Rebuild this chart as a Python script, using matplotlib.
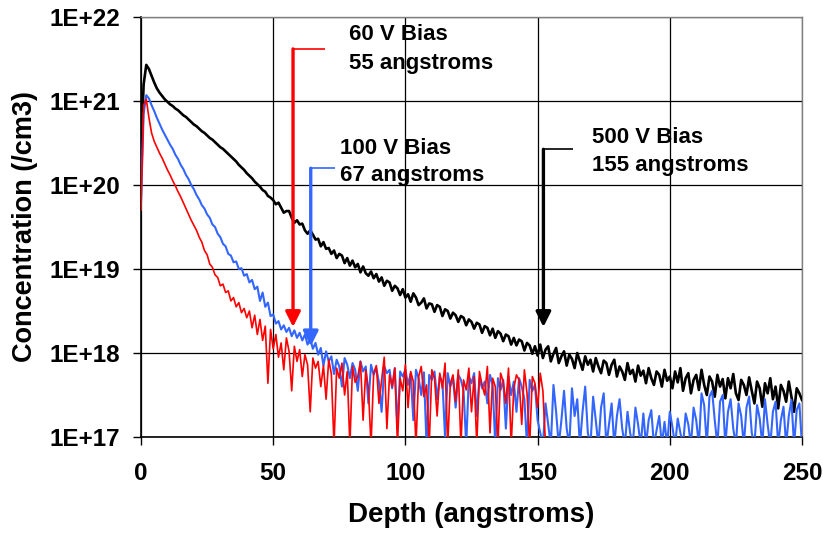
import numpy as np
import matplotlib
matplotlib.use("Agg")
import matplotlib.pyplot as plt

plt.rcParams['font.family'] = ['Liberation Sans', 'DejaVu Sans']
plt.rcParams['font.weight'] = 'bold'

# ---- data (log10 of concentration) ----
depth_500 = np.arange(0, 251)
log_conc_500 = [
    20.40, 21.20, 21.43, 21.38, 21.30, 21.22, 21.15, 21.10, 21.06, 21.02, 20.99,
    20.96, 20.94, 20.91, 20.89, 20.86, 20.83, 20.81, 20.78, 20.75, 20.72,
    20.70, 20.67, 20.64, 20.62, 20.59, 20.56, 20.54, 20.51, 20.48, 20.45,
    20.43, 20.40, 20.37, 20.34, 20.31, 20.28, 20.24, 20.21, 20.18, 20.14,
    20.11, 20.08, 20.04, 20.01, 19.98, 19.94, 19.92, 19.87, 19.85, 19.82,
    19.77, 19.79, 19.73, 19.67, 19.69, 19.69, 19.61, 19.55, 19.58, 19.53,
    19.54, 19.46, 19.42, 19.46, 19.41, 19.35, 19.36, 19.27, 19.32, 19.24,
    19.25, 19.18, 19.22, 19.13, 19.18, 19.16, 19.07, 19.13, 19.04, 19.10,
    19.02, 19.06, 18.96, 19.03, 18.95, 18.92, 18.97, 18.89, 18.94, 18.85,
    18.90, 18.80, 18.86, 18.84, 18.74, 18.80, 18.77, 18.69, 18.76, 18.66,
    18.70, 18.61, 18.71, 18.66, 18.57, 18.60, 18.65, 18.53, 18.59, 18.58,
    18.49, 18.57, 18.55, 18.44, 18.52, 18.50, 18.41, 18.48, 18.45, 18.37,
    18.44, 18.42, 18.33, 18.40, 18.37, 18.29, 18.36, 18.34, 18.24, 18.32,
    18.30, 18.21, 18.29, 18.18, 18.26, 18.23, 18.14, 18.22, 18.20, 18.10,
    18.18, 18.09, 18.16, 18.14, 18.03, 18.12, 18.09, 17.99, 18.08, 17.97,
    18.10, 17.94, 18.04, 18.08, 17.90, 17.99, 18.06, 17.88, 17.96, 18.02,
    17.85, 17.98, 17.93, 17.82, 18.00, 17.90, 17.80, 17.96, 17.86, 17.92,
    17.78, 17.94, 17.84, 17.76, 17.91, 17.88, 17.74, 17.86, 17.92, 17.72,
    17.84, 17.78, 17.68, 17.88, 17.75, 17.80, 17.66, 17.85, 17.73, 17.79,
    17.64, 17.82, 17.70, 17.62, 17.78, 17.74, 17.60, 17.80, 17.67, 17.72,
    17.58, 17.78, 17.65, 17.82, 17.55, 17.70, 17.76, 17.52, 17.68, 17.74,
    17.56, 17.80, 17.62, 17.50, 17.72, 17.66, 17.48, 17.74, 17.60, 17.69,
    17.46, 17.70, 17.58, 17.75, 17.52, 17.44, 17.68, 17.62, 17.50, 17.71,
    17.55, 17.40, 17.66, 17.58, 17.36, 17.64, 17.52, 17.70, 17.45, 17.60,
    17.34, 17.62, 17.55, 17.42, 17.66, 17.48, 17.30, 17.58, 17.52, 17.44,
]

depth_100 = np.arange(0, 251)
log_conc_100 = [
    19.80, 20.85, 21.07, 21.03, 20.95, 20.88, 20.80, 20.73, 20.66, 20.60, 20.54,
    20.48, 20.43, 20.36, 20.31, 20.24, 20.19, 20.12, 20.07, 20.00, 19.95,
    19.88, 19.83, 19.76, 19.72, 19.65, 19.61, 19.53, 19.50, 19.42, 19.38,
    19.30, 19.27, 19.18, 19.16, 19.08, 19.09, 19.00, 19.01, 18.92, 18.94,
    18.84, 18.87, 18.76, 18.79, 18.62, 18.72, 18.55, 18.60, 18.44, 18.46,
    18.35, 18.38, 18.28, 18.33, 18.25, 18.30, 18.20, 18.27, 18.18, 18.24,
    18.15, 18.22, 18.10, 18.17, 18.05, 18.12, 17.98, 18.06, 17.85, 18.02,
    17.90, 17.96, 17.75, 17.92, 17.84, 17.60, 17.94, 17.86, 17.70, 17.88,
    17.80, 17.55, 17.90, 17.78, 17.84, 17.40, 17.86, 17.74, 17.82, 17.65,
    17.30, 17.84, 17.76, 17.80, 17.58, 17.82, 17.10, 17.78, 17.72, 17.80,
    17.62, 17.76, 17.20, 17.80, 17.70, 17.50, 17.77, 16.90, 17.74, 17.68,
    17.78, 17.45, 17.72, 17.66, 17.00, 17.76, 17.60, 17.70, 17.35, 17.74,
    17.68, 17.55, 16.90, 17.72, 17.64, 17.76, 17.25, 17.70, 17.58, 17.66,
    17.40, 17.74, 17.62, 16.90, 17.70, 17.56, 17.68, 17.10, 17.72, 17.50,
    17.66, 17.30, 17.70, 17.60, 17.45, 16.90, 17.68, 17.55, 17.62, 17.20,
    17.05, 16.90, 17.40, 17.15, 16.90, 17.62, 17.30, 16.90, 17.20, 17.55,
    17.10, 16.90, 17.58, 17.25, 17.45, 16.90, 17.30, 17.60, 17.05, 16.90,
    17.48, 17.20, 16.90, 17.35, 17.52, 16.90, 17.15, 17.40, 16.90, 17.25,
    17.45, 17.10, 16.90, 17.30, 17.05, 16.90, 17.35, 17.15, 16.90, 17.28,
    16.90, 17.20, 17.32, 16.90, 17.08, 17.25, 16.90, 17.18, 16.90, 17.30,
    17.12, 16.90, 17.22, 17.05, 16.90, 17.28, 17.15, 16.90, 17.35, 17.20,
    16.90, 17.52, 17.38, 16.90, 17.48, 17.55, 17.20, 16.90, 17.42, 17.50,
    16.90, 17.30, 17.45, 17.10, 16.90, 17.40, 17.25, 16.90, 17.35, 17.48,
    17.05, 16.90, 17.38, 17.22, 16.90, 17.45, 17.15, 16.90, 17.30, 17.42,
    16.90, 17.20, 17.36, 16.90, 17.25, 17.44, 16.90, 17.32, 17.40, 16.90,
]

depth_60 = np.arange(0, 154)
log_conc_60 = [
    19.70, 20.95, 21.02, 20.80, 20.62, 20.52, 20.45, 20.38, 20.32, 20.25, 20.18,
    20.12, 20.05, 19.99, 19.92, 19.86, 19.79, 19.72, 19.65, 19.58, 19.52,
    19.46, 19.38, 19.32, 19.22, 19.17, 19.06, 19.02, 18.93, 18.90, 18.80,
    18.82, 18.72, 18.74, 18.62, 18.66, 18.55, 18.60, 18.48, 18.53, 18.42,
    18.50, 18.30, 18.45, 18.22, 18.40, 18.15, 18.32, 17.64, 18.28, 18.05,
    18.22, 17.95, 18.12, 17.80, 18.18, 18.02, 17.55, 18.08, 17.90, 18.04,
    17.72, 17.98, 17.86, 17.30, 17.94, 17.82, 17.90, 17.60, 17.85, 17.45,
    17.92, 17.75, 16.90, 17.82, 17.70, 17.88, 17.50, 17.78, 16.90, 17.84,
    17.65, 17.72, 17.90, 17.20, 17.80, 17.58, 16.90, 17.76, 17.85, 17.40,
    17.68, 17.95, 17.10, 17.74, 17.60, 17.82, 16.90, 17.70, 17.55, 17.86,
    17.35, 17.78, 17.66, 16.90, 17.72, 17.84, 17.48, 17.62, 16.90, 17.80,
    17.70, 17.25, 17.76, 17.58, 17.88, 16.90, 17.64, 17.74, 17.42, 17.80,
    16.90, 17.68, 17.56, 17.82, 17.30, 17.72, 16.90, 17.78, 17.62, 17.50,
    17.84, 17.05, 17.70, 17.60, 16.90, 17.76, 17.66, 17.40, 17.82, 16.90,
    17.58, 17.74, 17.68, 17.15, 17.80, 17.52, 16.90, 17.72, 17.64, 17.35,
    17.76, 17.55, 16.90,
]

x_ticks = [0, 50, 100, 150, 200, 250]
y_ticks = [1e17, 1e18, 1e19, 1e20, 1e21, 1e22]
y_tick_labels = ['1E+17', '1E+18', '1E+19', '1E+20', '1E+21', '1E+22']

# annotations
ann_labels = [('60 V Bias', '55 angstroms'),
              ('100 V Bias', '67 angstroms'),
              ('500 V Bias', '155 angstroms')]
ann_x = [57.5, 64.2, 152.2]
ann_top = [10**21.62, 10**20.20, 10**20.425]
ann_tip = [10**18.31, 10**18.08, 10**18.31]
ann_end = [69.6, 73.3, 163.5]
ann_text_x = [78.7, 75.3, 170.4]
ann_text_y1 = [10**21.786, 10**20.44, 10**20.568]
ann_text_y2 = [10**21.452, 10**20.119, 10**20.238]

RED = '#FF0000'
BLUE = '#3366FF'
BLACK = '#000000'
ann_colors = [RED, BLUE, BLACK]

fig = plt.figure(figsize=(8.23, 5.34), dpi=100)
ax = fig.add_axes([141/823, 1 - 437/534, (802-141)/823, (437-17)/534])

ax.plot(depth_500, 10**np.array(log_conc_500), color=BLACK, lw=1.9, zorder=3)
ax.plot(depth_100, 10**np.array(log_conc_100), color=BLUE, lw=1.5, zorder=3)
ax.plot(depth_60, 10**np.array(log_conc_60), color=RED, lw=1.2, zorder=3)

for i in range(3):
    c = ann_colors[i]
    ax.plot([ann_x[i], ann_end[i]], [ann_top[i], ann_top[i]], color=c, lw=1.2,
            solid_capstyle='butt', zorder=4)
    ax.annotate('', xy=(ann_x[i], ann_tip[i]), xytext=(ann_x[i], ann_top[i]),
                arrowprops=dict(arrowstyle='-|>,head_length=0.9,head_width=0.45',
                                color=c, lw=2.4, shrinkA=0, shrinkB=0), zorder=4)
    ax.text(ann_text_x[i], ann_text_y1[i], ann_labels[i][0], fontsize=16,
            fontweight='bold', va='center', ha='left', zorder=5)
    ax.text(ann_text_x[i], ann_text_y2[i], ann_labels[i][1], fontsize=16,
            fontweight='bold', va='center', ha='left', zorder=5)

ax.set_yscale('log')
ax.set_xlim(0, 250)
ax.set_ylim(1e17, 1e22)
ax.set_xticks(x_ticks)
ax.set_xticklabels([str(v) for v in x_ticks])
ax.set_yticks(y_ticks)
ax.set_yticklabels(y_tick_labels)
ax.yaxis.set_minor_locator(matplotlib.ticker.NullLocator())
ax.tick_params(axis='both', which='major', direction='out', length=6, width=1,
               labelsize=17.5, color='black')
ax.tick_params(axis='y', pad=9)
ax.tick_params(axis='x', pad=12)
for lab in ax.get_xticklabels() + ax.get_yticklabels():
    lab.set_fontweight('bold')

ax.grid(True, which='major', color='black', lw=0.9, zorder=1)
ax.set_axisbelow(True)
for s in ['left', 'bottom']:
    ax.spines[s].set_color('black')
    ax.spines[s].set_linewidth(1.2)
for s in ['top', 'right']:
    ax.spines[s].set_color('#808080')
    ax.spines[s].set_linewidth(1.0)

ax.set_xlabel('Depth (angstroms)', fontsize=20, fontweight='bold', labelpad=12)
ax.set_ylabel('Concentration (/cm3)', fontsize=19.5, fontweight='bold', labelpad=8)

fig.savefig('out.png', dpi=100)
